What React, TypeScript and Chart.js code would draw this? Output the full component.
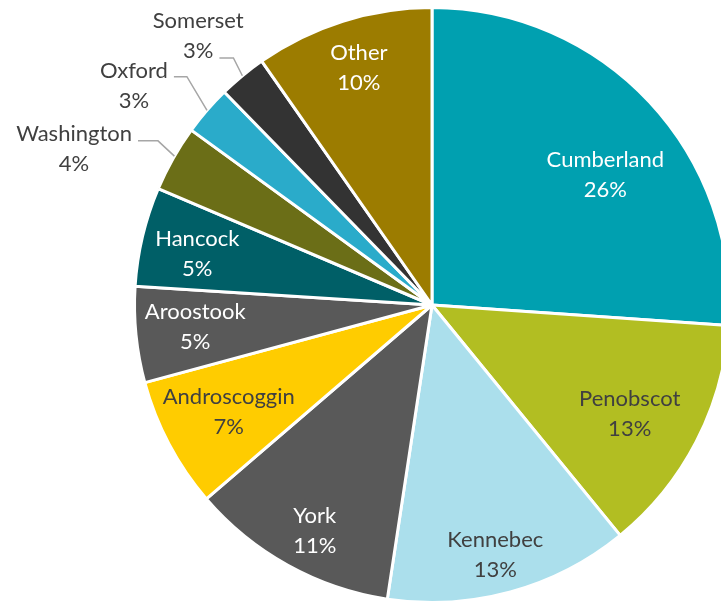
import React, { useEffect, useRef } from "react";
import { Chart, registerables } from "chart.js";

Chart.register(...registerables);

const counties = [
  "Cumberland",
  "Penobscot",
  "Kennebec",
  "York",
  "Androscoggin",
  "Aroostook",
  "Hancock",
  "Washington",
  "Oxford",
  "Somerset",
  "Other",
];
const shares = [26.1, 13.0, 13.3, 11.3, 7.1, 5.2, 5.4, 3.6, 2.7, 2.6, 9.7];
const sliceColors = [
  "#00A0B0",
  "#B2BE22",
  "#ABDFEC",
  "#595959",
  "#FFCC00",
  "#595959",
  "#005F67",
  "#6B6E17",
  "#2AABCA",
  "#333333",
  "#9C7C00",
];
const labelColors = [
  "#FFFFFF",
  "#404040",
  "#404040",
  "#FFFFFF",
  "#404040",
  "#FFFFFF",
  "#FFFFFF",
  "#404040",
  "#404040",
  "#404040",
  "#FFFFFF",
];

// label placement: [angle from 12 o'clock in degrees, radius factor]
const labelPlacement: [number, number][] = [
  [53.5, 0.725],
  [119.3, 0.762],
  [165.9, 0.873],
  [207.2, 0.862],
  [241.8, 0.775],
  [264.2, 0.8],
  [281.8, 0.806],
  [293.3, 1.31],
  [306.1, 1.24],
  [318.8, 1.193],
  [342.7, 0.827],
];
// leader lines for outside labels: index -> {line, dy, elbow, angleOffsetDeg}
const leaders: Record<number, { line: number; dy: number; elbow: number; off: number }> = {
  7: { line: 0, dy: 7, elbow: 20, off: 0.5 },
  8: { line: 0, dy: 6, elbow: 13, off: 0 },
  9: { line: 1, dy: 7, elbow: 14, off: 0 },
};

const FONT = "22px Lato, 'Open Sans', sans-serif";

const labelPlugin = {
  id: "sliceLabels",
  afterDatasetsDraw(chart: any) {
    const ctx = chart.ctx as CanvasRenderingContext2D;
    const meta = chart.getDatasetMeta(0);
    const total = shares.reduce((a, b) => a + b, 0);
    ctx.save();
    ctx.font = FONT;
    ctx.textAlign = "center";
    ctx.textBaseline = "middle";
    meta.data.forEach((arc: any, i: number) => {
      const p = arc.getProps(["x", "y", "outerRadius", "startAngle", "endAngle"], true);
      const [deg, f] = labelPlacement[i];
      const a = ((deg - 90) * Math.PI) / 180;
      const lx = p.x + Math.cos(a) * p.outerRadius * f;
      const ly = p.y + Math.sin(a) * p.outerRadius * f - 2;
      const lines = [counties[i], Math.round((shares[i] / total) * 100) + "%"];
      ctx.fillStyle = labelColors[i];
      ctx.fillText(lines[0], lx, ly - 15);
      ctx.fillText(lines[1], lx, ly + 15);
      const ld = leaders[i];
      if (ld) {
        const lineY = ly + (ld.line === 0 ? -15 : 15);
        const w = ctx.measureText(lines[ld.line]).width;
        const sx = lx + w / 2 + 6;
        const sy = lineY + ld.dy;
        const mid = (p.startAngle + p.endAngle) / 2 + (ld.off * Math.PI) / 180;
        const ex = p.x + Math.cos(mid) * p.outerRadius;
        const ey = p.y + Math.sin(mid) * p.outerRadius;
        ctx.strokeStyle = "#A6A6A6";
        ctx.lineWidth = 1.5;
        ctx.beginPath();
        ctx.moveTo(sx, sy);
        ctx.lineTo(sx + ld.elbow, sy);
        ctx.lineTo(ex, ey);
        ctx.stroke();
      }
    });
    ctx.restore();
  },
};

export default function App() {
  const ref = useRef<HTMLCanvasElement | null>(null);
  useEffect(() => {
    if (!ref.current) return;
    const chart = new Chart(ref.current, {
      type: "pie",
      data: {
        labels: counties,
        datasets: [
          {
            data: shares,
            backgroundColor: sliceColors,
            borderColor: "#FFFFFF",
            borderWidth: 3,
            radius: 297.5,
          } as any,
        ],
      },
      options: {
        animation: false,
        responsive: true,
        maintainAspectRatio: false,
        layout: { padding: { left: 143, right: 0, top: 6, bottom: 0 } },
        plugins: {
          legend: { display: false },
          tooltip: { enabled: false },
        },
      },
      plugins: [labelPlugin],
    });
    return () => chart.destroy();
  }, []);
  return (
    <div
      style={{
        position: "absolute",
        left: 0,
        top: 0,
        width: 721,
        height: 604,
        background: "#FFFFFF",
      }}
    >
      <canvas ref={ref} />
    </div>
  );
}
